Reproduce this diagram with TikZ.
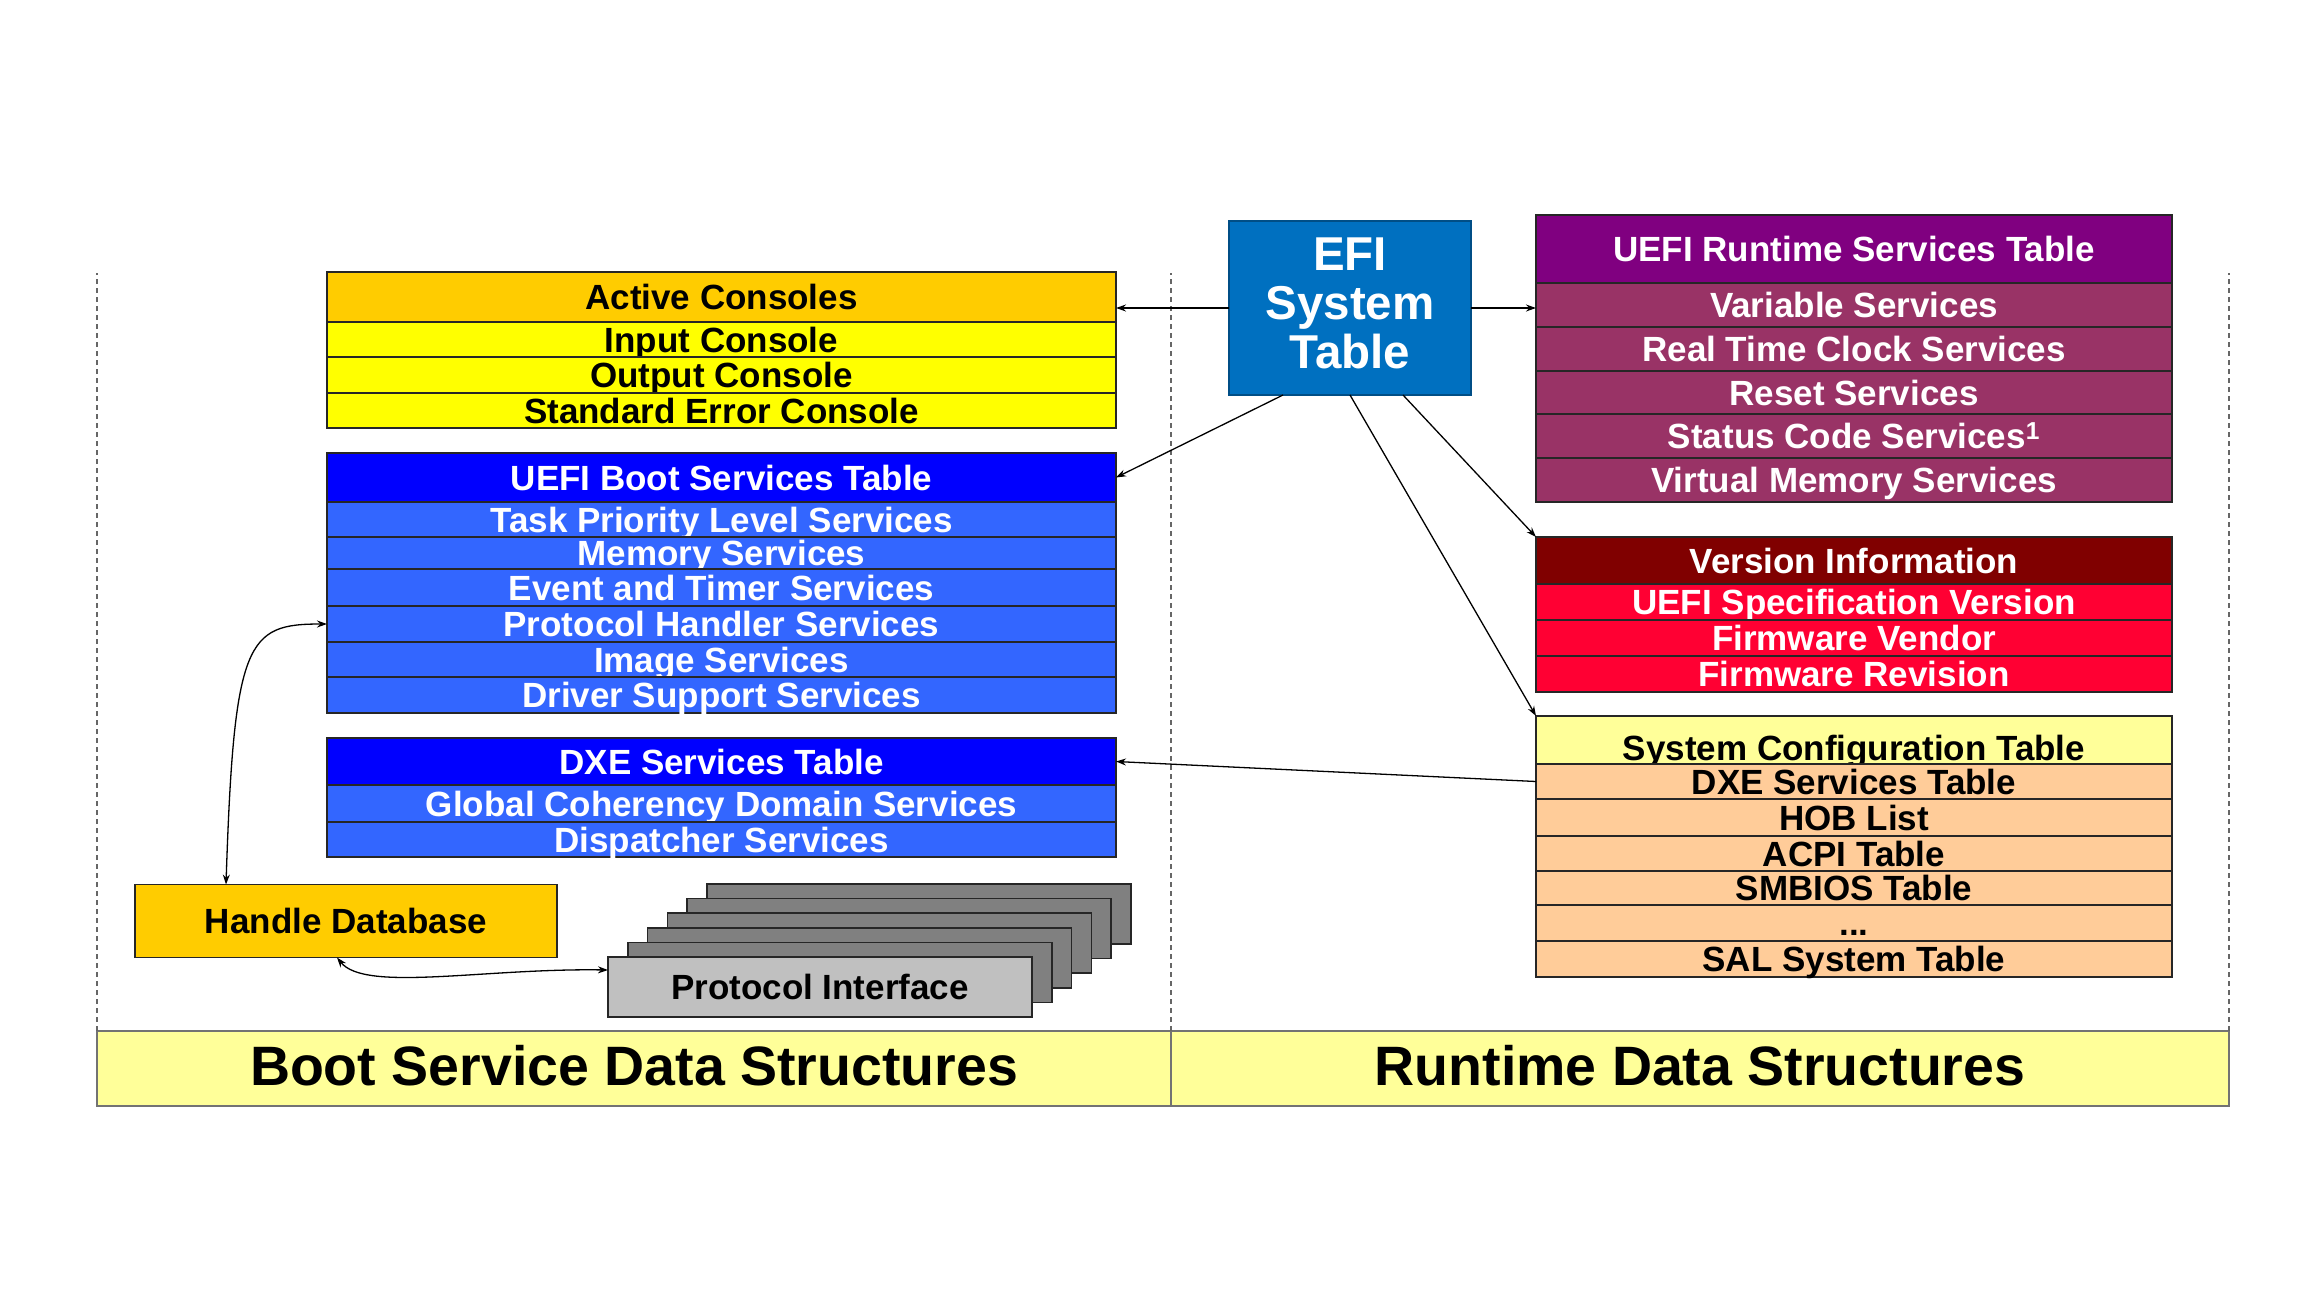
\documentclass[tikz,border=0pt]{standalone}
\usepackage{fontspec}
\setmainfont{Liberation Sans}
\usetikzlibrary{arrows.meta}

\definecolor{consolehdr}{HTML}{FFCC00}
\definecolor{consolerow}{HTML}{FFFF00}
\definecolor{boothdr}{HTML}{0000FF}
\definecolor{bootrow}{HTML}{3366FF}
\definecolor{efiblue}{HTML}{0070C0}
\definecolor{rthdr}{HTML}{800080}
\definecolor{rtrow}{HTML}{993366}
\definecolor{verhdr}{HTML}{800000}
\definecolor{verrow}{HTML}{FF0033}
\definecolor{schdr}{HTML}{FFFF99}
\definecolor{scrow}{HTML}{FFCC99}
\definecolor{bandfill}{HTML}{FFFF99}
\definecolor{protofront}{HTML}{C0C0C0}
\definecolor{protoback}{HTML}{808080}

\newcommand\uefirowfont{\fontsize{35}{38}\selectfont\bfseries}
\newcommand\uefiefifont{\fontsize{47.5}{49}\selectfont\bfseries}
\newcommand\uefibandfont{\fontsize{55.5}{60}\selectfont\bfseries}

\begin{document}
\begin{tikzpicture}[x=1pt,y=1pt,yscale=-1,
  cell/.style={draw=black!85,line width=1.5pt,inner sep=0pt,outer sep=0pt,
    anchor=north west,text height=27pt,text depth=2pt,font=\uefirowfont},
  leftcell/.style={cell,minimum width=789},
  rightcell/.style={cell,minimum width=636},
  arr/.style={-{Stealth[length=10pt,width=7pt]},line width=1.3pt},
  twoarr/.style={{Stealth[length=10pt,width=7pt]}-{Stealth[length=10pt,width=7pt]},line width=1.3pt},
  divider/.style={draw=black!60,line width=1.5pt,dash pattern=on 5pt off 4pt},
  band/.style={draw=black!55,line width=1.5pt,fill=bandfill,inner sep=0pt,outer sep=0pt,
    anchor=north west,minimum height=75,text height=38pt,text depth=4pt,font=\uefibandfont}]
\useasboundingbox (0,0) rectangle (2304,1296);

% Bottom bands
\node[band,minimum width=1074] (bsd) at (97,1031) {Boot Service Data Structures};
\node[band,minimum width=1058] (rds) at (1171,1031) {Runtime Data Structures};

% Dashed dividers
\draw[divider] (bsd.north west) -- ++(0,-758);
\draw[divider] (bsd.north east) -- ++(0,-758);
\draw[divider] (rds.north east) -- ++(0,-758);

% Active Consoles
\node[leftcell,fill=consolehdr,minimum height=50] (ac) at (327,272) {Active Consoles};
\node[leftcell,fill=consolerow,minimum height=35] (acin) at (327,322) {Input Console};
\node[leftcell,fill=consolerow,minimum height=36] (acout) at (327,357) {Output Console};
\node[leftcell,fill=consolerow,minimum height=35] (acerr) at (327,393) {Standard Error Console};

% UEFI Boot Services Table
\node[leftcell,fill=boothdr,text=white,minimum height=49] (bst) at (327,453) {UEFI Boot Services Table};
\node[leftcell,fill=bootrow,text=white,minimum height=35] (btpl) at (327,502) {Task Priority Level Services};
\node[leftcell,fill=bootrow,text=white,minimum height=32] (bmem) at (327,537) {Memory Services};
\node[leftcell,fill=bootrow,text=white,minimum height=37] (bevt) at (327,569) {Event and Timer Services};
\node[leftcell,fill=bootrow,text=white,minimum height=36] (bprot) at (327,606) {Protocol Handler Services};
\node[leftcell,fill=bootrow,text=white,minimum height=35] (bimg) at (327,642) {Image Services};
\node[leftcell,fill=bootrow,text=white,minimum height=36] (bdrv) at (327,677) {Driver Support Services};

% DXE Services Table
\node[leftcell,fill=boothdr,text=white,minimum height=47] (dxe) at (327,738) {DXE Services Table};
\node[leftcell,fill=bootrow,text=white,minimum height=37] (dgcd) at (327,785) {Global Coherency Domain Services};
\node[leftcell,fill=bootrow,text=white,minimum height=35] (ddisp) at (327,822) {Dispatcher Services};

% Handle Database
\node[cell,fill=consolehdr,minimum width=422,minimum height=73,anchor=center] (hdb) at (346,921) {Handle Database};

% Protocol Interface stack
\foreach \i in {5,4,...,1}
  \node[cell,fill=protoback,minimum width=424,minimum height=60] (pi\i) at ({608+19.8*\i},{957-14.6*\i}) {};
\node[cell,fill=protofront,minimum width=424,minimum height=60] (pi) at (608,957) {Protocol Interface};

% EFI System Table
\node[draw=efiblue!70!black,line width=1.5pt,fill=efiblue,text=white,font=\uefiefifont,align=center,
  minimum width=242,minimum height=174,inner sep=0pt,outer sep=0pt] (efi) at (1350,308) {EFI\\System\\Table\vspace{10pt}};

% UEFI Runtime Services Table
\node[rightcell,fill=rthdr,text=white,minimum height=68] (rst) at (1536,215) {UEFI Runtime Services Table};
\node[rightcell,fill=rtrow,text=white,minimum height=44] (rvar) at (1536,283) {Variable Services};
\node[rightcell,fill=rtrow,text=white,minimum height=44] (rrtc) at (1536,327) {Real Time Clock Services};
\node[rightcell,fill=rtrow,text=white,minimum height=43] (rrst) at (1536,371) {Reset Services};
\node[rightcell,fill=rtrow,text=white,minimum height=44] (rstat) at (1536,414) {Status Code Services\textsuperscript{1}};
\node[rightcell,fill=rtrow,text=white,minimum height=44] (rvm) at (1536,458) {Virtual Memory Services};

% Version Information
\node[rightcell,fill=verhdr,text=white,minimum height=47] (ver) at (1536,537) {Version Information};
\node[rightcell,fill=verrow,text=white,minimum height=36] (vspec) at (1536,584) {UEFI Specification Version};
\node[rightcell,fill=verrow,text=white,minimum height=36] (vvend) at (1536,620) {Firmware Vendor};
\node[rightcell,fill=verrow,text=white,minimum height=36] (vrev) at (1536,656) {Firmware Revision};

% System Configuration Table
\node[rightcell,fill=schdr,minimum height=48,text height=40pt,text depth=0pt] (sct) at (1536,716) {System Configuration Table};
\node[rightcell,fill=scrow,minimum height=35] (scdxe) at (1536,764) {DXE Services Table};
\node[rightcell,fill=scrow,minimum height=37] (schob) at (1536,799) {HOB List};
\node[rightcell,fill=scrow,minimum height=35] (scacpi) at (1536,836) {ACPI Table};
\node[rightcell,fill=scrow,minimum height=34] (scsmb) at (1536,871) {SMBIOS Table};
\node[rightcell,fill=scrow,minimum height=36] (scdots) at (1536,905) {...};
\node[rightcell,fill=scrow,minimum height=36] (scsal) at (1536,941) {SAL System Table};

% Connectors
\draw[arr] (efi.west) -- (efi.west -| ac.east);
\draw[arr] (efi.east) -- (efi.east -| rvar.west);
\draw[arr] ([xshift=-67pt]efi.south) -- (bst.east);
\draw[arr] ([xshift=53pt]efi.south) -- (ver.north west);
\draw[arr] (efi.south) -- (sct.north west);
\draw[arr] (scdxe.west) -- (dxe.east);
\draw[twoarr] ([xshift=-120pt]hdb.north) .. controls +(8,-245) and +(-80,0) .. (bprot.west);
\draw[twoarr] ([xshift=-9pt]hdb.south) .. controls +(28,35) and +(-124,-2) .. ([yshift=-17pt]pi.west);

\end{tikzpicture}
\end{document}
